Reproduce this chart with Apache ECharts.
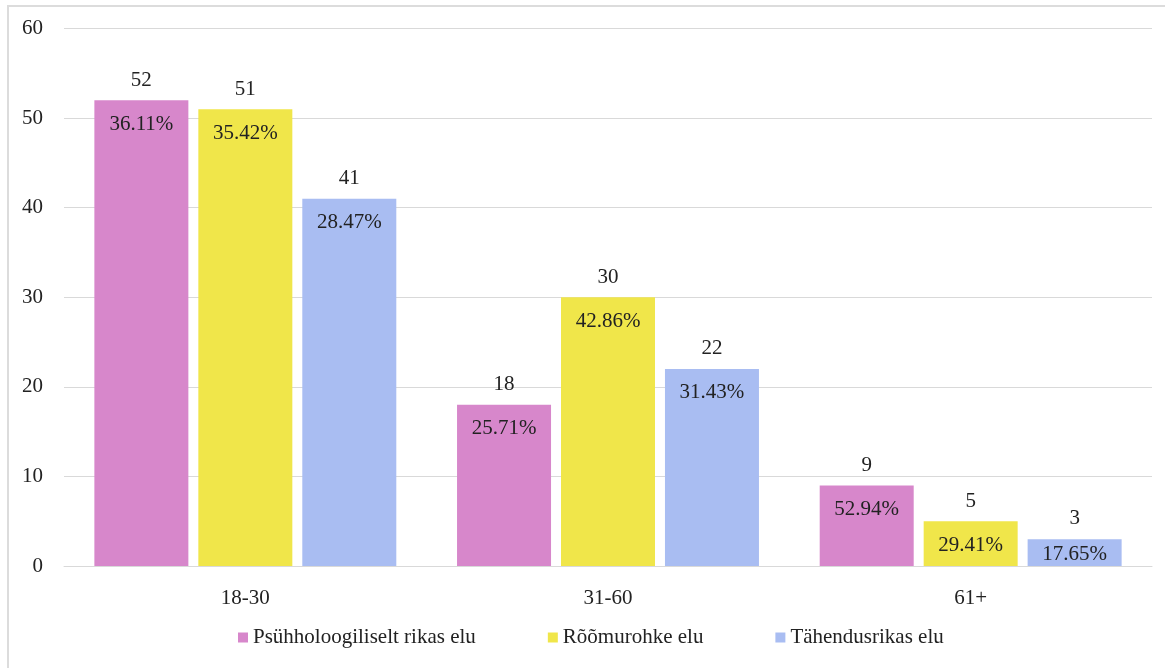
<!DOCTYPE html>
<html>
<head>
<meta charset="utf-8">
<script src="https://cdn.jsdelivr.net/npm/echarts@6/dist/echarts.min.js"></script>
<style>
  html, body { margin: 0; padding: 0; background: #fff; }
  #frame {
    position: absolute; left: 7px; top: 5px; width: 1158px; height: 663px;
    border-left: 2px solid #dcdcdc; border-top: 2px solid #dcdcdc;
    box-sizing: border-box;
  }
  #chart { width: 1165px; height: 668px; position: absolute; left: 0; top: 0; }
</style>
</head>
<body>
<div id="frame"></div>
<div id="chart"></div>
<script>
const categories = ["18-30", "31-60", "61+"];
const seriesNames = ["Psühholoogiliselt rikas elu", "Rõõmurohke elu", "Tähendusrikas elu"];
const psyValues = [52, 18, 9];
const joyValues = [51, 30, 5];
const meanValues = [41, 22, 3];
const psyPercents = ["36.11%", "25.71%", "52.94%"];
const joyPercents = ["35.42%", "42.86%", "29.41%"];
const meanPercents = ["28.47%", "31.43%", "17.65%"];
const colors = ["#d787cb", "#f0e64a", "#a9bdf2"];

const chartInstance = echarts.init(document.getElementById("chart"));
const font = "Liberation Serif";
const fs = 21;

function makeSeries(name, values, percents, color) {
  return {
    name: name,
    type: "bar",
    barWidth: 94,
    barGap: "10.6%",
    itemStyle: { color: color },
    data: values.map((v, i) => {
      const item = { value: v, pct: percents[i] };
      // short bar: keep the percentage inside it
      if (v < 4) item.label = { lineHeight: 36, offset: [0, -39] };
      return item;
    }),
    label: {
      show: true,
      position: "insideTop",
      distance: 0,
      offset: [0, -42],
      fontFamily: font,
      fontSize: fs,
      color: "#222",
      lineHeight: 44,
      formatter: (p) => p.value + "\n" + p.data.pct,
    },
  };
}

const series = [
  makeSeries(seriesNames[0], psyValues, psyPercents, colors[0]),
  makeSeries(seriesNames[1], joyValues, joyPercents, colors[1]),
  makeSeries(seriesNames[2], meanValues, meanPercents, colors[2]),
];

chartInstance.setOption({
  animation: false,
  textStyle: { fontFamily: font },
  grid: { left: 64, right: 13, top: 28.5, bottom: 102 },
  legend: {
    data: seriesNames,
    bottom: 15,
    left: 233,
    icon: "rect",
    itemWidth: 10,
    itemHeight: 10,
    itemGap: 72,
    textStyle: { fontFamily: font, fontSize: fs, color: "#222" },
  },
  xAxis: {
    type: "category",
    data: categories,
    axisLine: { lineStyle: { color: "#d9d9d9" } },
    axisTick: { show: false },
    axisLabel: { fontFamily: font, fontSize: fs, color: "#222", margin: 22 },
  },
  yAxis: {
    type: "value",
    min: 0,
    max: 60,
    interval: 10,
    axisLine: { show: false },
    axisTick: { show: false },
    axisLabel: { fontFamily: font, fontSize: fs, color: "#222", margin: 21 },
    splitLine: { lineStyle: { color: "#d9d9d9" } },
  },
  series: series,
});
</script>
</body>
</html>
